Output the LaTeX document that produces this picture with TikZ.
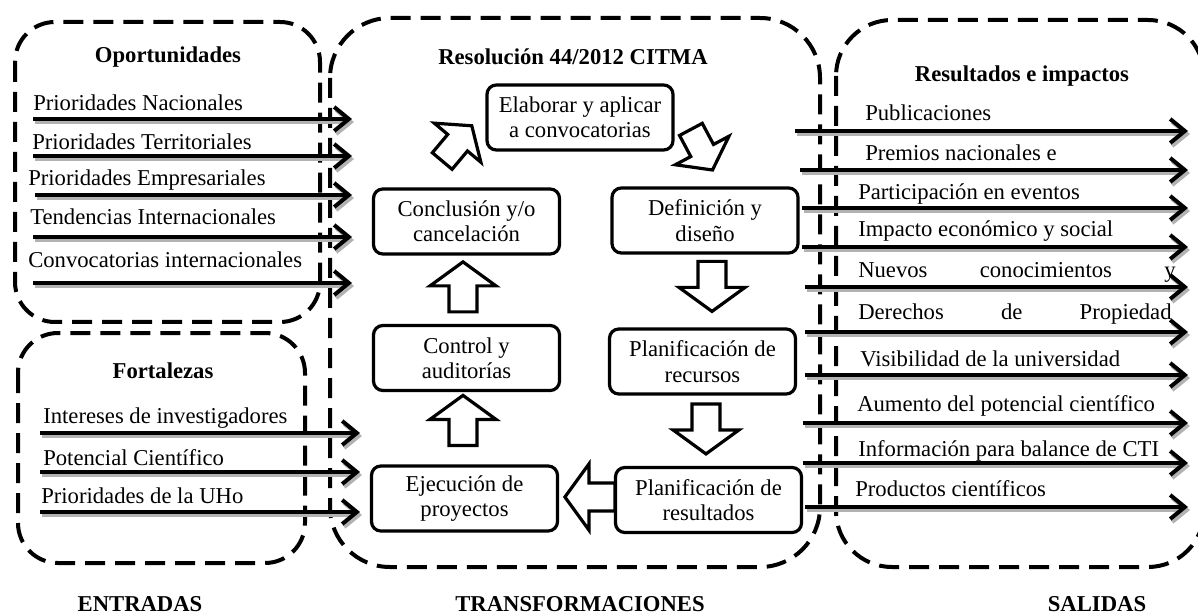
\documentclass[tikz,border=0pt]{standalone}
\usepackage{fontspec}
\setmainfont{Liberation Serif}
\usetikzlibrary{arrows.meta,calc}
\newcommand{\myfs}{\fontsize{17}{19}\selectfont}
\tikzset{
  dbox/.style={draw, dash pattern=on 15pt off 7.5pt, line width=3pt},
  proc/.style={draw, line width=2.4pt, rounded corners=7pt, minimum width=139.5pt,
    minimum height=48.75pt, align=center, inner sep=2pt, font=\myfs, fill=white},
  lab/.style={anchor=base west, inner sep=0pt, font=\myfs},
  ttl/.style={anchor=base, inner sep=0pt, font=\myfs\bfseries},
  larrow/.style={line width=3pt, -{Straight Barb[length=11pt,width=18pt]}},
  shad/.style={line width=3pt, draw=black!30, -{Straight Barb[length=11pt,width=18pt]}},
  blk/.style={draw, line width=2.4pt, fill=white, line join=miter, miter limit=20},
  barrow/.pic={\draw[blk] (-25,-14) -- (1,-14) -- (1,-33) -- (25,0) -- (1,33) -- (1,14) -- (-25,14) -- cycle;}
}
\begin{document}
\begin{tikzpicture}[x=0.75pt,y=-0.75pt]
\useasboundingbox (0,0) rectangle (1198,616);
\begin{scope}
\clip (0,0) rectangle (1198,616);
% dashed group boxes
\draw[dbox, rounded corners=30pt] (15,22) rectangle (320,322);
\draw[dbox, rounded corners=30pt] (18,333) rectangle (305,563);
\draw[dbox, rounded corners=45pt] (330,18) rectangle (820,567);
\draw[dbox, rounded corners=42pt] (836,20) rectangle (1204,567);
\end{scope}

% titles
\node[ttl] (tOp) at (168,63) {Oportunidades};
\node[ttl] (tFo) at (163,378) {Fortalezas};
\node[ttl] (tRe) at (573,65) {Resolución 44/2012 CITMA};
\node[ttl] (tRi) at (1022,82) {Resultados e impactos};
\node[ttl] (tEn) at (140,611) {ENTRADAS};
\node[ttl] (tTr) at (580,611) {TRANSFORMACIONES};
\node[ttl] (tSa) at (1097,611) {SALIDAS};

% input arrows: oportunidades
\foreach \ys/\ye/\xl/\yl/\t [count=\i] in {
  33/119/33/111/Prioridades Nacionales,
  33/156/32/150/Prioridades Territoriales,
  35/195/28/186/Prioridades Empresariales,
  33/237/30/225/Tendencias Internacionales,
  33/283/28/268/Convocatorias internacionales}{
  \coordinate (os\i) at (\ys,\ye);
  \coordinate (oe\i) at (352,\ye);
  \draw[shad] ($(os\i)+(2,3)$) -- ($(oe\i)+(2,3)$);
  \draw[larrow] (os\i) -- (oe\i);
  \node[lab] (ol\i) at (\xl,\yl) {\t};
}

% input arrows: fortalezas
\foreach \ye/\xl/\yl/\t [count=\i] in {
  433/43/423/Intereses de investigadores,
  472/43/465/Potencial Científico,
  512/41/503/Prioridades de la UHo}{
  \coordinate (fs\i) at (40,\ye);
  \coordinate (fe\i) at (360,\ye);
  \draw[shad] ($(fs\i)+(2,3)$) -- ($(fe\i)+(2,3)$);
  \draw[larrow] (fs\i) -- (fe\i);
  \node[lab] (fl\i) at (\xl,\yl) {\t};
}

% output arrows
\foreach \xs/\ye/\xl/\yl/\t [count=\i] in {
  795/131/865/121/Publicaciones,
  800/170/865/161/Premios nacionales e,
  802/208/858/200/Participación en eventos,
  802/247/858/237/Impacto económico y social,
  805/287/858/278/\makebox[238pt][s]{Nuevos conocimientos y},
  805/332/858/320/\makebox[235pt][s]{Derechos de Propiedad},
  805/375/860/366/Visibilidad de la universidad,
  803/423/857/411/Aumento del potencial científico,
  803/463/858/456/Información para balance de CTI,
  805/507/855/496/Productos científicos}{
  \coordinate (ss\i) at (\xs,\ye);
  \coordinate (se\i) at (1188,\ye);
  \draw[shad] ($(ss\i)+(2,3)$) -- ($(se\i)+(2,3)$);
  \draw[larrow] (ss\i) -- (se\i);
  \node[lab] (sl\i) at (\xl,\yl) {\t};
}

% process boxes
\node[proc] (elab) at (580,117.5) {Elaborar y aplicar\\a convocatorias};
\node[proc] (concl) at (466.5,221.5) {Conclusión y/o\\cancelación};
\node[proc] (defi) at (705,220.5) {Definición y\\diseño};
\node[proc] (ctrl) at (466.5,358) {Control y\\auditorías};
\node[proc] (prec) at (702.5,361.5) {Planificación de\\recursos};
\node[proc] (ejec) at (464.5,498.5) {Ejecución de\\proyectos};
\node[proc] (pres) at (708.5,500) {Planificación de\\resultados};

% block arrows
\pic[rotate=50, scale=0.92] at ($(concl.north)+(-9.5,-44)$) {barrow};
\pic[rotate=-62, scale=0.92] at ($(defi.north)+(-3.3,-36.7)$) {barrow};
\pic[rotate=90] at ($(ctrl.north)+(-3.5,-37)$) {barrow};
\pic[rotate=90] at ($(ejec.north)+(-1.5,-44)$) {barrow};
\pic[rotate=-90] at ($(prec.north)+(9.5,-41)$) {barrow};
\pic[rotate=-90] at ($(pres.north)+(-2.5,-37)$) {barrow};
\pic[rotate=180] at ($(pres.west)+(-24,-3)$) {barrow};
\end{tikzpicture}
\end{document}
